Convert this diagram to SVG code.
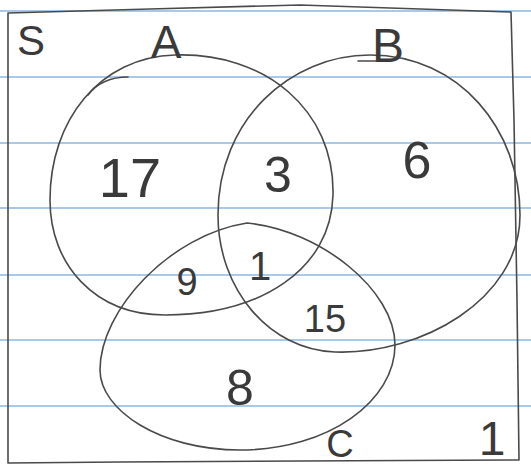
<svg xmlns="http://www.w3.org/2000/svg" width="531" height="468" viewBox="0 0 531 468">
<style>
.rule{stroke:#a9c9ea;stroke-width:2;fill:none}
.ink{stroke:#4a4a4a;stroke-width:1.6;fill:none;stroke-linecap:round;stroke-linejoin:round}
.t{font-family:"Liberation Sans","DejaVu Sans",sans-serif;fill:#3a3a3a;text-anchor:middle}
</style>
<rect width="531" height="468" fill="#ffffff"/>
<g id="paper-lines">
<line class="rule" x1="0" y1="11" x2="531" y2="11"/>
<line class="rule" x1="0" y1="77" x2="531" y2="77"/>
<line class="rule" x1="0" y1="143" x2="531" y2="143"/>
<line class="rule" x1="0" y1="208" x2="531" y2="208"/>
<line class="rule" x1="0" y1="275" x2="531" y2="275"/>
<line class="rule" x1="0" y1="340" x2="531" y2="340"/>
<line class="rule" x1="0" y1="406" x2="531" y2="406"/>
</g>
<g id="universe">
<path class="ink" d="M8,13 L150,9 L300,5 L420,9 L511,12 L514,120 L517,300 L519,460 L300,461 L120,462 L8,463 Z"/>
<text class="t" x="31" y="55" font-size="42">S</text>
<text class="t" x="492" y="455" font-size="48">1</text>
</g>
<g id="set-A">
<path class="ink" d="M175,55 C265,52 335,110 333,195 C331,270 260,315 165,315 C95,315 50,265 50,200 C50,120 100,57 175,55 Z"/>
<path class="ink" d="M88,95 C98,82 112,77 128,77"/>
<text class="t" x="166" y="58" font-size="46">A</text>
</g>
<g id="set-B">
<path class="ink" d="M370,55 C460,55 520,130 520,215 C520,300 420,355 335,352 C270,350 218,290 218,215 C218,120 290,55 370,55 Z"/>
<path class="ink" d="M358,61 L380,61"/>
<text class="t" x="388" y="62" font-size="48">B</text>
</g>
<g id="set-C">
<path class="ink" d="M247,223 C320,230 395,290 395,345 C395,400 330,450 240,450 C160,450 100,410 100,370 C100,310 170,235 247,223 Z"/>
<text class="t" x="340" y="457" font-size="38">C</text>
</g>
<g id="regions">
<text class="t" x="130" y="197" font-size="56">17</text>
<text class="t" x="278" y="192" font-size="50">3</text>
<text class="t" x="417" y="178" font-size="52">6</text>
<text class="t" x="187" y="295" font-size="38">9</text>
<text class="t" x="260" y="280" font-size="40">1</text>
<text class="t" x="325" y="332" font-size="38">15</text>
<text class="t" x="240" y="405" font-size="50">8</text>
</g>
</svg>
